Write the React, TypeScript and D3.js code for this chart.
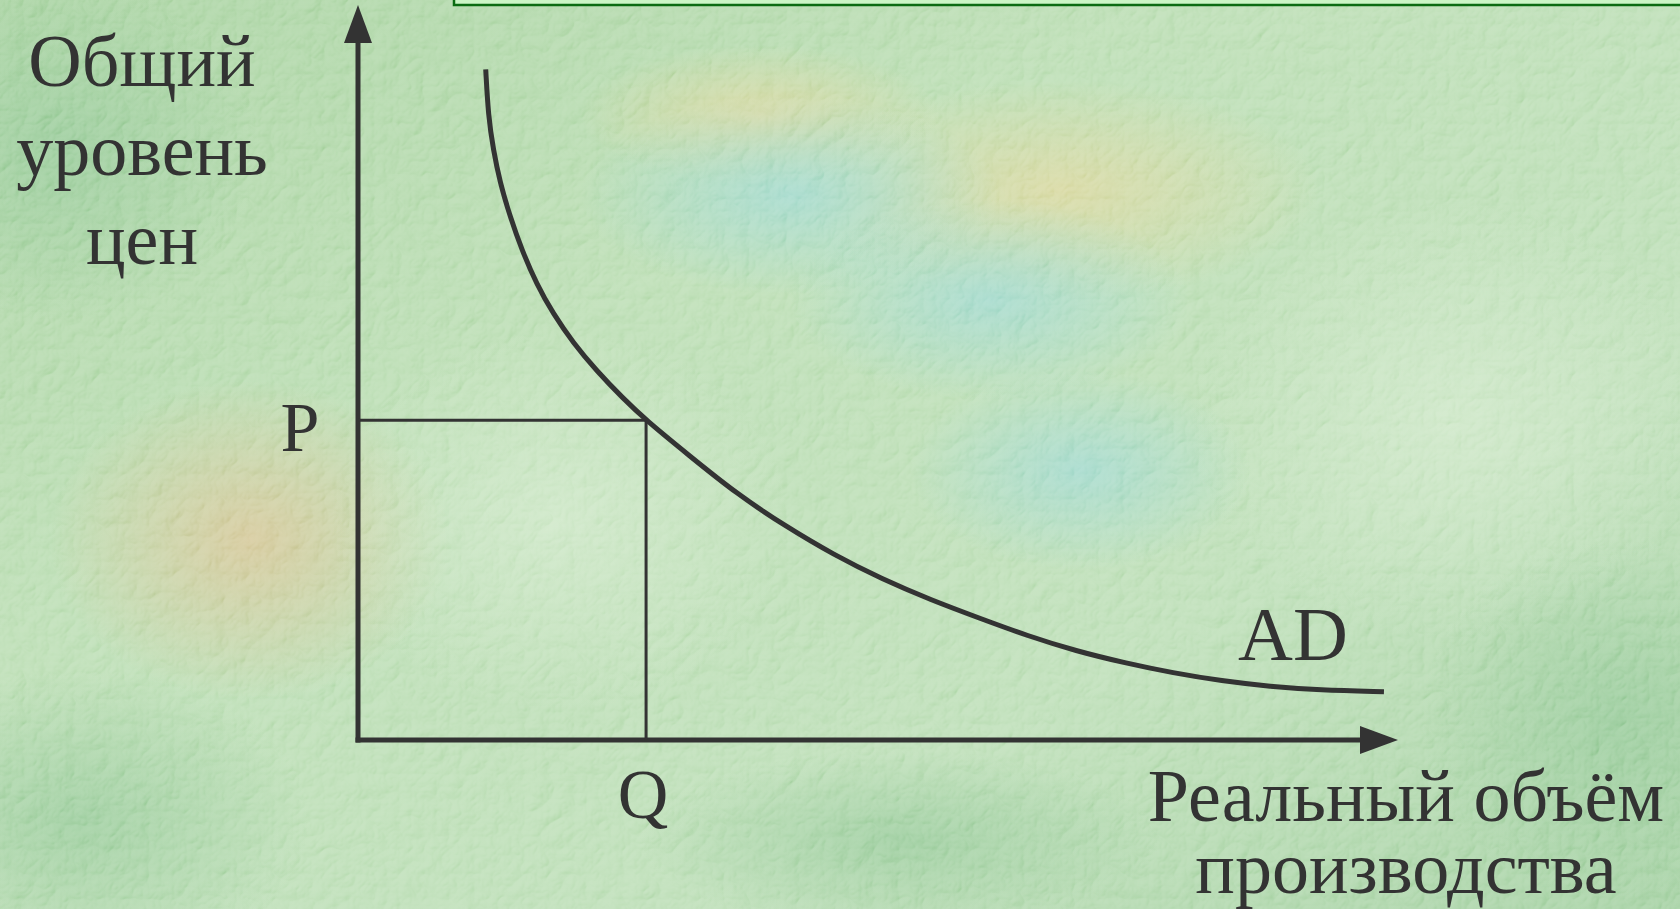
import React from 'react';
import * as d3 from 'd3';

const W = 1680;
const H = 909;

// Aggregate demand curve: real output (Q) vs. general price level (P)
const adOutput = [
  1.228, 1.253, 1.301, 1.365, 1.462, 1.574, 1.718, 1.875, 2.067, 2.295, 2.548, 2.77,
  3.178, 3.644, 4.106, 4.577, 5.038, 5.51, 5.971, 6.442, 6.904, 7.375, 7.837, 8.308, 8.769, 9.24, 9.865,
];
const adPrice = [
  9.125, 8.488, 8.033, 7.586, 7.124, 6.671, 6.201, 5.803, 5.408, 5.022, 4.649, 4.35,
  3.878, 3.347, 2.912, 2.517, 2.19, 1.905, 1.66, 1.415, 1.211, 1.048, 0.912, 0.803, 0.728, 0.68, 0.657,
];

// Marked point on the curve
const markedQ = 2.77;
const markedP = 4.35;

const domainQ = [0, 10];
const domainP = [0, 10];

const yTitleLines = ['Общий', 'уровень', 'цен'];
const xTitleLines = ['Реальный объём', 'производства'];
const labelP = 'P';
const labelQ = 'Q';
const curveName = 'AD';

const INK = '#333333';
const FONT = '"Liberation Serif", "Times New Roman", serif';

export default function App() {
  const x = d3.scaleLinear().domain(domainQ).range([358, 1398]);
  const y = d3.scaleLinear().domain(domainP).range([740, 5]);

  const pts: [number, number][] = adOutput.map((q, i) => [q, adPrice[i]]);
  const line = d3
    .line<[number, number]>()
    .x((d) => x(d[0]))
    .y((d) => y(d[1]))
    .curve(d3.curveBasis);

  const x0 = x(domainQ[0]);
  const y0 = y(domainP[0]);
  const xMax = x(domainQ[1]);
  const yMax = y(domainP[1]);
  const head = 38;
  const half = 14;

  const last = pts[pts.length - 1];

  return (
    <svg
      width={W}
      height={H}
      viewBox={`0 0 ${W} ${H}`}
      style={{ position: 'absolute', left: 0, top: 0, display: 'block' }}
    >
      <defs>
        <linearGradient id="base" x1="0" y1="0" x2="1" y2="1">
          <stop offset="0" stopColor="#a2cf9a" />
          <stop offset="0.35" stopColor="#b6dbae" />
          <stop offset="0.7" stopColor="#b8dcb2" />
          <stop offset="1" stopColor="#9ecd9c" />
        </linearGradient>
        <radialGradient id="tan" cx="0.5" cy="0.5" r="0.5">
          <stop offset="0" stopColor="#d6c08e" stopOpacity="0.85" />
          <stop offset="1" stopColor="#d6c08e" stopOpacity="0" />
        </radialGradient>
        <radialGradient id="yellow" cx="0.5" cy="0.5" r="0.5">
          <stop offset="0" stopColor="#dcd496" stopOpacity="0.8" />
          <stop offset="1" stopColor="#dcd496" stopOpacity="0" />
        </radialGradient>
        <radialGradient id="blue" cx="0.5" cy="0.5" r="0.5">
          <stop offset="0" stopColor="#9ad6cc" stopOpacity="0.85" />
          <stop offset="1" stopColor="#9ad6cc" stopOpacity="0" />
        </radialGradient>
        <radialGradient id="light" cx="0.5" cy="0.5" r="0.5">
          <stop offset="0" stopColor="#cfe8c8" stopOpacity="0.75" />
          <stop offset="1" stopColor="#cfe8c8" stopOpacity="0" />
        </radialGradient>
        <radialGradient id="deep" cx="0.5" cy="0.5" r="0.5">
          <stop offset="0" stopColor="#8cc490" stopOpacity="0.75" />
          <stop offset="1" stopColor="#8cc490" stopOpacity="0" />
        </radialGradient>
        <filter id="grain" x="0" y="0" width="100%" height="100%">
          <feTurbulence type="turbulence" baseFrequency="0.04" numOctaves="3" seed="11" result="n" />
          <feDiffuseLighting in="n" surfaceScale="3.5" lightingColor="#ffffff" result="lit">
            <feDistantLight azimuth="225" elevation="50" />
          </feDiffuseLighting>
        </filter>
      </defs>

      {/* marbled green backdrop */}
      <rect width={W} height={H} fill="url(#base)" />
      <ellipse cx={250} cy={540} rx={200} ry={160} fill="url(#tan)" />
      <ellipse cx={1060} cy={190} rx={260} ry={110} fill="url(#yellow)" />
      <ellipse cx={760} cy={115} rx={180} ry={70} fill="url(#yellow)" />
      <ellipse cx={790} cy={195} rx={210} ry={100} fill="url(#blue)" />
      <ellipse cx={990} cy={300} rx={200} ry={100} fill="url(#blue)" />
      <ellipse cx={1080} cy={470} rx={170} ry={100} fill="url(#blue)" />
      <ellipse cx={560} cy={520} rx={230} ry={190} fill="url(#light)" />
      <ellipse cx={1450} cy={420} rx={260} ry={220} fill="url(#light)" />
      <ellipse cx={80} cy={820} rx={230} ry={150} fill="url(#deep)" />
      <ellipse cx={60} cy={150} rx={200} ry={170} fill="url(#deep)" />
      <ellipse cx={1620} cy={720} rx={200} ry={180} fill="url(#deep)" />
      <ellipse cx={900} cy={840} rx={260} ry={90} fill="url(#deep)" />
      <rect width={W} height={H} filter="url(#grain)" opacity={0.5} style={{ mixBlendMode: 'soft-light' }} />

      {/* title strip at the top */}
      <rect x={454} y={-10} width={W} height={15} fill="#ccf5c6" stroke="#0b6b12" strokeWidth={2.5} />

      {/* axes */}
      <g fill={INK} stroke={INK}>
        <line x1={x0} y1={y0 + 2.5} x2={x0} y2={yMax + head - 2} strokeWidth={5} />
        <polygon stroke="none" points={`${x0},${yMax} ${x0 - half},${yMax + head} ${x0 + half},${yMax + head}`} />
        <line x1={x0 - 2.5} y1={y0} x2={xMax - head + 2} y2={y0} strokeWidth={5} />
        <polygon stroke="none" points={`${xMax},${y0} ${xMax - head},${y0 - half} ${xMax - head},${y0 + half}`} />
      </g>

      {/* guides to the marked point */}
      <g stroke={INK} strokeWidth={3}>
        <line x1={x0} y1={y(markedP)} x2={x(markedQ)} y2={y(markedP)} />
        <line x1={x(markedQ)} y1={y(markedP)} x2={x(markedQ)} y2={y0} />
      </g>

      {/* AD curve */}
      <path d={line(pts) ?? ''} fill="none" stroke={INK} strokeWidth={5} />

      {/* labels */}
      <g fontFamily={FONT} fill={INK} fontSize={70}>
        <text x={x0 - 58} y={y(markedP) + 31} textAnchor="middle">{labelP}</text>
        <text x={x(markedQ) - 3} y={y0 + 78} textAnchor="middle">{labelQ}</text>
        <text x={x(last[0]) - 91} y={y(last[1]) - 32} textAnchor="middle" fontSize={76}>{curveName}</text>
        <text x={142} y={86} textAnchor="middle" fontSize={74}>
          {yTitleLines.map((t, i) => (
            <tspan key={t} x={142} dy={i === 0 ? 0 : 89}>{t}</tspan>
          ))}
        </text>
        <text x={1406} y={821} textAnchor="middle" fontSize={74}>
          {xTitleLines.map((t, i) => (
            <tspan key={t} x={1406} dy={i === 0 ? 0 : 72}>{t}</tspan>
          ))}
        </text>
      </g>
    </svg>
  );
}
